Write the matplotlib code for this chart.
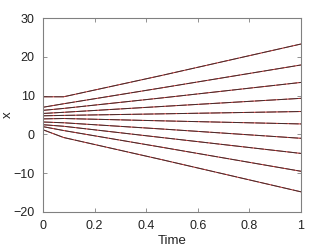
import numpy as np
import matplotlib.pyplot as plt

# sample times
t = [0, 0.08, 0.46, 1.0]

# trajectories (value at each sample time)
x1 = [9.7, 9.7, 15.2, 23.3]
x2 = [7.0, 7.9, 12.0, 17.9]
x3 = [6.2, 6.7, 9.4, 13.4]
x4 = [5.4, 5.7, 7.2, 9.3]
x5 = [4.8, 4.9, 5.3, 5.9]
x6 = [4.0, 4.1, 3.5, 2.7]
x7 = [3.2, 3.0, 1.4, -1.0]
x8 = [2.5, 2.1, -0.8, -4.9]
x9 = [2.0, 1.0, -3.3, -9.5]
x10 = [1.2, -0.8, -6.5, -14.8]
paths = [x1, x2, x3, x4, x5, x6, x7, x8, x9, x10]

plt.rcParams['font.family'] = ['Liberation Sans', 'DejaVu Sans']

fig = plt.figure(figsize=(3.32, 2.49), dpi=100)
ax = fig.add_axes([0.1295, 0.1486, 0.777, 0.779])

for p in paths:
    ax.plot(t, p, color="#c02020", lw=0.7)
    ax.plot(t, p, color="#303030", lw=0.7, alpha=0.85, dashes=(10, 1.5))

ax.set_xlim(0, 1)
ax.set_ylim(-20, 30)
ax.set_xticks([0, 0.2, 0.4, 0.6, 0.8, 1])
ax.set_xticklabels(["0", "0.2", "0.4", "0.6", "0.8", "1"])
ax.set_yticks([-20, -10, 0, 10, 20, 30])
ax.tick_params(direction="in", top=True, right=True, length=3, width=0.6,
               color="#808080", labelsize=9, pad=6, labelcolor="#222222")
for s in ax.spines.values():
    s.set_color("#808080")
    s.set_linewidth(0.8)

ax.set_xlabel("Time", fontsize=9.5, labelpad=2, color="#222222")
ax.set_ylabel("x", fontsize=9.5, labelpad=0, color="#222222")

fig.savefig("out.png", dpi=100)
